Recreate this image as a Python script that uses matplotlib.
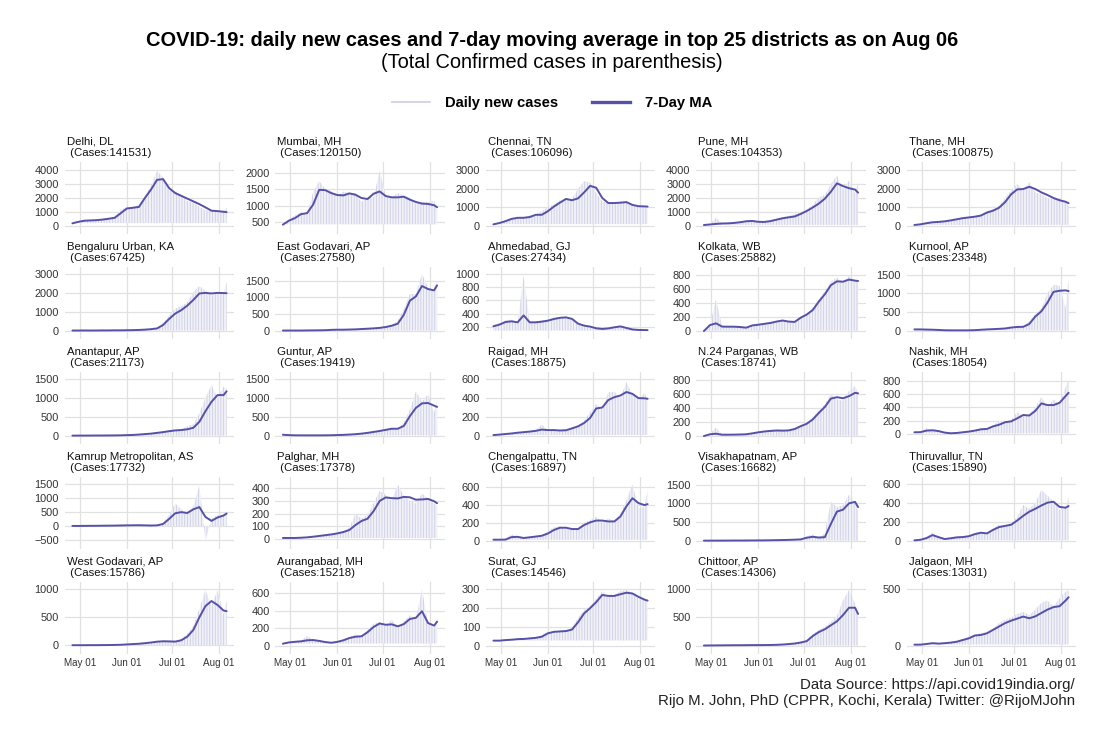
import pandas as pd
import matplotlib
matplotlib.use("Agg")
import matplotlib.pyplot as plt
import matplotlib.dates as mdates
from matplotlib.lines import Line2D
from matplotlib.ticker import MultipleLocator

plt.rcParams['font.family'] = ['Liberation Sans', 'DejaVu Sans']
plt.rcParams['hatch.linewidth'] = 0.6

###############################################################################
# Data (read off the reference, sampled every 4 days)
dates = pd.to_datetime([
    "2020-04-26", "2020-04-30", "2020-05-04", "2020-05-08", "2020-05-12",
    "2020-05-16", "2020-05-20", "2020-05-24", "2020-05-28", "2020-06-01",
    "2020-06-05", "2020-06-09", "2020-06-13", "2020-06-17", "2020-06-21",
    "2020-06-25", "2020-06-29", "2020-07-03", "2020-07-07", "2020-07-11",
    "2020-07-15", "2020-07-19", "2020-07-23", "2020-07-27", "2020-07-31",
    "2020-08-04", "2020-08-06"])

districts = ["Delhi, DL", "Mumbai, MH", "Chennai, TN", "Pune, MH", "Thane, MH",
             "Bengaluru Urban, KA", "East Godavari, AP", "Ahmedabad, GJ",
             "Kolkata, WB", "Kurnool, AP", "Anantapur, AP", "Guntur, AP",
             "Raigad, MH", "N.24 Parganas, WB", "Nashik, MH",
             "Kamrup Metropolitan, AS", "Palghar, MH", "Chengalpattu, TN",
             "Visakhapatnam, AP", "Thiruvallur, TN", "West Godavari, AP",
             "Aurangabad, MH", "Surat, GJ", "Chittoor, AP", "Jalgaon, MH"]

total_cases = [141531, 120150, 106096, 104353, 100875, 67425, 27580, 27434,
               25882, 23348, 21173, 19419, 18875, 18741, 18054, 17732, 17378,
               16897, 16682, 15890, 15786, 15218, 14546, 14306, 13031]

# 7-day moving average
ma7 = [
    [170, 280, 360, 380, 400, 440, 500, 570, 900, 1240, 1290, 1350, 2000, 2600, 3300, 3350, 2700, 2350, 2150, 1950, 1750, 1550, 1320, 1080, 1050, 1000, 980],  # Delhi
    [420, 540, 620, 740, 770, 1030, 1480, 1470, 1380, 1320, 1310, 1370, 1330, 1230, 1200, 1360, 1430, 1290, 1250, 1250, 1270, 1180, 1110, 1060, 1050, 1010, 950],  # Mumbai
    [90, 160, 260, 380, 440, 440, 480, 600, 600, 790, 1040, 1250, 1450, 1380, 1480, 1800, 2150, 2050, 1500, 1230, 1230, 1250, 1280, 1130, 1060, 1050, 1040],  # Chennai
    [70, 110, 150, 180, 190, 220, 270, 340, 360, 300, 290, 350, 450, 550, 620, 680, 860, 1070, 1320, 1600, 1950, 2450, 3050, 2850, 2700, 2600, 2380],  # Pune
    [55, 90, 150, 200, 220, 250, 300, 360, 420, 460, 500, 560, 720, 820, 980, 1280, 1700, 1960, 1980, 2100, 1980, 1800, 1660, 1500, 1380, 1300, 1220],  # Thane
    [10, 10, 12, 10, 12, 15, 15, 20, 20, 25, 30, 40, 55, 80, 120, 300, 620, 900, 1080, 1320, 1620, 1960, 1990, 1960, 1990, 1980, 1975],  # Bengaluru
    [5, 5, 5, 5, 8, 10, 12, 15, 25, 30, 30, 35, 40, 50, 60, 70, 85, 110, 150, 210, 480, 900, 1030, 1340, 1250, 1210, 1360],  # East Godavari
    [210, 235, 275, 285, 270, 375, 270, 270, 280, 295, 320, 338, 345, 322, 250, 220, 205, 180, 170, 178, 195, 208, 185, 162, 155, 153, 152],  # Ahmedabad
    [-5, 80, 105, 58, 57, 57, 52, 43, 75, 85, 98, 110, 130, 145, 130, 125, 185, 230, 295, 415, 520, 650, 705, 700, 730, 715, 710],  # Kolkata
    [35, 35, 30, 27, 20, 12, 10, 10, 10, 10, 15, 25, 35, 42, 50, 60, 85, 100, 105, 180, 380, 520, 750, 1040, 1070, 1080, 1060],  # Kurnool
    [2, 3, 3, 4, 5, 5, 6, 8, 10, 15, 20, 30, 42, 55, 75, 95, 120, 140, 150, 170, 210, 370, 650, 900, 1080, 1080, 1180],  # Anantapur
    [25, 15, 10, 9, 9, 9, 9, 10, 12, 17, 22, 30, 40, 55, 75, 100, 125, 155, 185, 185, 260, 520, 740, 860, 870, 800, 765],  # Guntur
    [7, 12, 18, 24, 32, 38, 44, 52, 65, 60, 60, 56, 58, 78, 100, 135, 190, 290, 300, 380, 410, 428, 465, 445, 400, 398, 393],  # Raigad
    [-5, 20, 28, 14, 14, 15, 17, 20, 33, 48, 60, 68, 74, 72, 75, 95, 135, 170, 232, 325, 410, 530, 550, 535, 565, 612, 605],  # N.24 Parganas
    [30, 32, 55, 60, 48, 25, 15, 20, 30, 40, 55, 74, 80, 118, 142, 180, 193, 238, 288, 280, 350, 461, 436, 436, 470, 570, 620],  # Nashik
    [10, 10, 12, 14, 15, 18, 20, 22, 25, 30, 33, 35, 30, 25, 30, 80, 260, 460, 500, 470, 600, 680, 330, 190, 310, 380, 450],  # Kamrup
    [8, 8, 8, 10, 13, 18, 24, 30, 36, 44, 55, 71, 110, 142, 160, 220, 300, 328, 322, 320, 332, 329, 310, 312, 316, 298, 282],  # Palghar
    [11, 11, 12, 40, 43, 30, 38, 46, 55, 80, 119, 145, 145, 130, 130, 175, 205, 225, 225, 215, 215, 270, 385, 475, 420, 398, 409],  # Chengalpattu
    [2, 2, 3, 3, 4, 5, 5, 6, 7, 8, 9, 12, 15, 18, 22, 28, 35, 80, 105, 85, 95, 450, 780, 830, 1000, 1040, 900],  # Visakhapatnam
    [4, 10, 28, 60, 38, 18, 26, 36, 39, 48, 70, 85, 78, 115, 145, 158, 170, 215, 265, 309, 340, 375, 405, 415, 360, 351, 369],  # Thiruvallur
    [2, 2, 2, 3, 3, 4, 5, 7, 10, 16, 22, 28, 38, 50, 65, 72, 70, 66, 90, 155, 274, 500, 700, 790, 720, 620, 610],  # West Godavari
    [23, 38, 45, 50, 62, 65, 55, 42, 34, 44, 62, 88, 103, 108, 155, 215, 255, 240, 245, 222, 248, 306, 320, 395, 260, 230, 275],  # Aurangabad
    [27, 27, 30, 32, 35, 36, 39, 42, 48, 66, 74, 76, 78, 86, 125, 172, 200, 232, 270, 265, 265, 274, 282, 278, 260, 245, 240],  # Surat
    [3, 4, 5, 6, 7, 8, 8, 9, 10, 10, 11, 12, 15, 20, 28, 38, 55, 80, 170, 240, 290, 360, 430, 540, 670, 670, 560],  # Chittoor
    [9, 9, 15, 22, 18, 22, 27, 35, 50, 65, 90, 95, 110, 140, 170, 200, 222, 240, 258, 243, 260, 290, 320, 342, 350, 400, 430],  # Jalgaon
]

# daily new cases
daily = [
    [190, 310, 420, 360, 410, 500, 530, 660, 1160, 1300, 1330, 1500, 2130, 2900, 3950, 3460, 2500, 2500, 2190, 1780, 1650, 1350, 1100, 1090, 960, 1080, 1300],
    [430, 600, 700, 800, 730, 1400, 1750, 1500, 1430, 1300, 1420, 1390, 1380, 1100, 1250, 1250, 2050, 1300, 1260, 1380, 1300, 1240, 1060, 1110, 1100, 1150, 900],
    [100, 170, 300, 430, 450, 470, 550, 620, 800, 1010, 1150, 1380, 1400, 1470, 1990, 2400, 2330, 1750, 1330, 1200, 1170, 1300, 1300, 1100, 1040, 1080, 1000],
    [80, 130, 600, 170, 200, 250, 320, 350, 380, 280, 300, 420, 520, 640, 700, 850, 1000, 1200, 1500, 2050, 2200, 3000, 3600, 2600, 3250, 2300, 3100],
    [60, 110, 170, 200, 230, 260, 320, 380, 450, 470, 520, 620, 800, 900, 1100, 1500, 1900, 2250, 1900, 2350, 1800, 1700, 1500, 1450, 1500, 1250, 1100],
    [12, 8, 15, 8, 14, 18, 14, 25, 18, 30, 35, 45, 60, 100, 150, 400, 800, 1150, 1300, 1500, 2040, 2350, 2100, 1850, 1950, 2000, 2550],
    [6, 4, 6, 5, 9, 12, 10, 18, 30, 28, 35, 40, 45, 55, 70, 80, 100, 120, 180, 300, 650, 1100, 1100, 1700, 1300, 1200, 1550],
    [230, 260, 300, 310, 260, 970, 270, 280, 300, 310, 340, 350, 330, 310, 240, 210, 200, 175, 165, 190, 200, 200, 180, 160, 150, 155, 145],
    [-20, 70, 450, 55, 60, 55, 50, 45, 80, 90, 100, 120, 140, 150, 120, 130, 200, 240, 320, 450, 560, 700, 760, 690, 780, 720, 700],
    [40, 30, 35, 25, 18, 10, 12, 8, 12, 10, 18, 30, 40, 45, 55, 65, 95, 110, 100, 250, 450, 600, 1000, 1230, 1200, 600, 1380],
    [3, 2, 4, 5, 4, 6, 7, 10, 12, 18, 25, 35, 50, 60, 80, 110, 130, 150, 170, 250, 300, 600, 1000, 1350, 1000, 1300, 1250],
    [30, 12, 10, 8, 10, 9, 8, 12, 14, 20, 25, 35, 45, 60, 80, 110, 130, 170, 200, 180, 350, 700, 1180, 900, 1100, 600, 950],
    [8, 14, 30, 25, 40, 35, 50, 60, 120, 55, 65, 50, 60, 90, 110, 160, 250, 340, 280, 460, 470, 400, 570, 440, 380, 460, 380],
    [-15, 25, 120, 12, 15, 14, 20, 22, 40, 50, 65, 70, 80, 68, 78, 100, 150, 180, 260, 360, 450, 600, 520, 500, 640, 710, 600],
    [30, 40, 90, 55, 45, 20, 15, 22, 35, 45, 60, 90, 85, 130, 200, 190, 210, 330, 270, 300, 400, 560, 400, 520, 450, 700, 820],
    [10, 12, 14, 15, 18, 20, 25, 30, 70, 35, 40, 30, 28, 25, 40, 120, 400, 800, 600, 450, 700, 1450, -510, 250, 400, 420, 500],
    [9, 8, 10, 12, 15, 20, 28, 35, 40, 50, 60, 90, 200, 160, 190, 280, 380, 350, 300, 430, 340, 300, 280, 360, 320, 280, 260],
    [12, 10, 20, 70, 45, 25, 40, 50, 60, 100, 150, 160, 130, 120, 140, 200, 230, 270, 200, 250, 220, 300, 450, 630, 360, 380, 570],
    [2, 3, 3, 4, 5, 5, 6, 7, 8, 9, 10, 14, 18, 20, 25, 32, 40, 120, 160, 80, 200, 1050, 900, 950, 1230, 1000, 800],
    [5, 15, 40, 90, 30, 15, 30, 40, 45, 55, 85, 90, 80, 130, 170, 160, 190, 250, 380, 340, 400, 540, 480, 420, 330, 340, 470],
    [2, 2, 3, 3, 4, 5, 6, 8, 12, 20, 25, 30, 45, 55, 70, 80, 75, 70, 110, 200, 350, 650, 990, 700, 980, 550, 800],
    [25, 45, 50, 60, 110, 70, 50, 40, 35, 50, 70, 100, 130, 110, 180, 250, 270, 220, 300, 200, 280, 350, 300, 646, 250, 200, 320],
    [28, 28, 32, 34, 36, 38, 40, 45, 55, 70, 76, 78, 80, 95, 150, 190, 210, 250, 290, 260, 270, 290, 297, 280, 250, 240, 235],
    [3, 5, 6, 7, 8, 9, 8, 10, 11, 12, 12, 14, 18, 22, 30, 45, 65, 100, 200, 280, 330, 420, 520, 800, 980, 750, 500],
    [10, 10, 20, 25, 15, 25, 30, 40, 60, 80, 100, 110, 120, 150, 200, 230, 250, 280, 300, 270, 320, 380, 400, 350, 420, 480, 490],
]

# free y scales of each facet (lower, upper) and break spacing
y_limits = [(-597, 4583), (135, 2326), (-428, 3428), (-571, 4571), (-428, 3428),
            (-437, 3353), (-249, 1911), (18, 1106), (-119, 910), (-222, 1706),
            (-221, 1694), (-221, 1694), (-88, 678), (-119, 910), (-145, 930),
            (-809, 1748), (-79, 489), (-93, 712), (-222, 1706), (-88, 678),
            (-155, 1130), (-95, 730), (-44, 339), (-147, 1124), (-74, 565)]
y_steps = [1000, 500, 1000, 1000, 1000, 1000, 500, 200, 200, 500,
           500, 500, 200, 200, 200, 500, 100, 200, 500, 200,
           500, 200, 100, 500, 500]

###############################################################################
# Plot
daily_col = '#cdcde5'
ma_col = '#5551a8'

W, H = 1104, 736
fig = plt.figure(figsize=(W / 100, H / 100), dpi=100)

col_left = [64.7, 275.2, 485.7, 696.2, 906.7]
row_top = [162, 267, 372, 477, 582]
pw, ph = 169.6, 72

pad = pd.Timedelta(days=5.1)

for i, name in enumerate(districts):
    r, c = divmod(i, 5)
    ax = fig.add_axes([col_left[c] / W, 1 - (row_top[r] + ph) / H, pw / W, ph / H])

    # daily counts drawn as thin vertical strokes under their curve
    base = max(0, min(daily[i]))
    ax.fill_between(dates, base, daily[i], facecolor='#f1f1f8',
                    edgecolor=daily_col, hatch='||||||', linewidth=0)
    ax.plot(dates, ma7[i], color=ma_col, lw=1.4, solid_capstyle='round')

    ax.set_xlim(dates[0] - pad, dates[-1] + pad)
    ax.set_ylim(*y_limits[i])
    ax.yaxis.set_major_locator(MultipleLocator(y_steps[i]))
    ax.xaxis.set_major_locator(mdates.MonthLocator(bymonth=[5, 6, 7, 8]))
    ax.xaxis.set_major_formatter(mdates.DateFormatter('%b %d'))

    ax.grid(True, color='#e1e1e1', lw=0.9)
    ax.set_axisbelow(True)
    for s in ax.spines.values():
        s.set_visible(False)
    ax.tick_params(length=0, colors='#333333')
    ax.tick_params(axis='y', labelsize=7.9, pad=4)
    ax.tick_params(axis='x', labelsize=7.1, pad=3)
    if r < 4:
        ax.tick_params(labelbottom=False)

    ax.annotate(f"{name}\n (Cases:{total_cases[i]})", xy=(0, 1),
                xycoords='axes fraction', xytext=(2, 4),
                textcoords='offset pixels', ha='left', va='bottom',
                fontsize=8.2, linespacing=1.15, color='#111111')

fig.text(0.5, 1 - 40 / H,
         "COVID-19: daily new cases and 7-day moving average in top 25 districts as on Aug 06",
         ha='center', va='center', fontsize=14.4, weight='bold')
fig.text(0.5, 1 - 62 / H, "(Total Confirmed cases in parenthesis)",
         ha='center', va='center', fontsize=14.4)

handles = [Line2D([], [], color=daily_col, lw=1.2),
           Line2D([], [], color=ma_col, lw=2.4)]
fig.legend(handles, ["Daily new cases", "7-Day MA"], loc='center',
           bbox_to_anchor=(0.5, 1 - 103 / H), ncol=2, frameon=False,
           prop={'weight': 'bold', 'size': 10.6}, handlelength=2.6,
           handletextpad=1.0, columnspacing=2.3)

fig.text(1075 / W, 1 - 685 / H, "Data Source: https://api.covid19india.org/",
         ha='right', va='center', fontsize=10.8, color='#222222')
fig.text(1075 / W, 1 - 701 / H,
         "Rijo M. John, PhD (CPPR, Kochi, Kerala) Twitter: @RijoMJohn",
         ha='right', va='center', fontsize=10.8, color='#222222')

fig.savefig("out.png", dpi=100, facecolor='white')
